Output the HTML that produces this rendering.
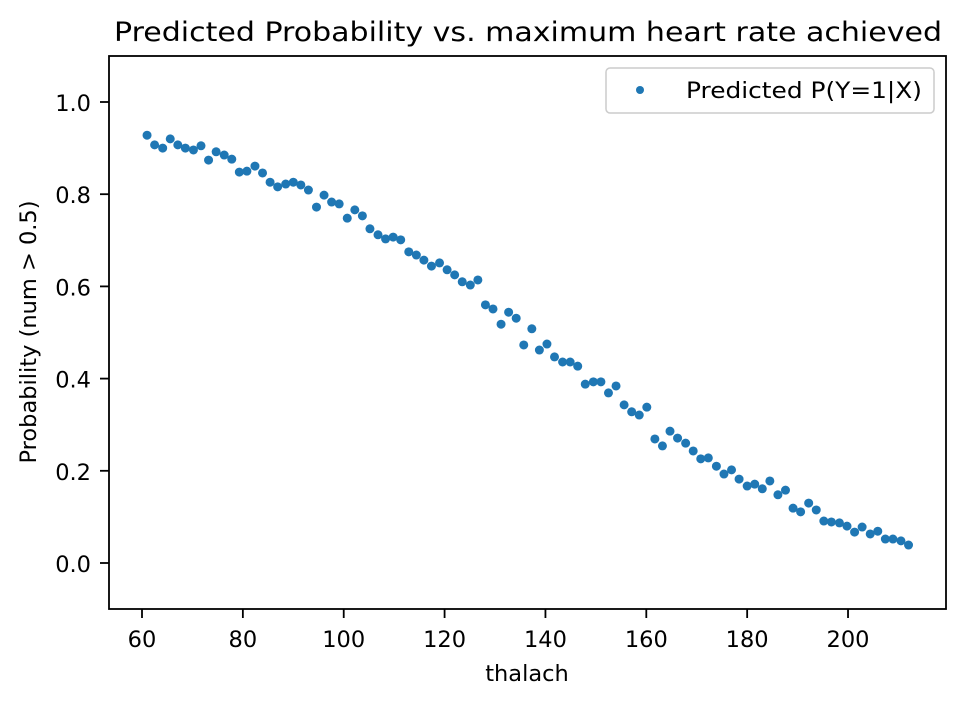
<!DOCTYPE html>
<html><head><meta charset="utf-8"><style>
body{margin:0;background:#fff}
svg{display:block;font-family:"DejaVu Sans","Liberation Sans",sans-serif}
</style></head><body>
<svg id="chart" width="964" height="703">
<text x="114" y="41" font-size="27" textLength="828" lengthAdjust="spacingAndGlyphs" fill="#000">Predicted Probability vs. maximum heart rate achieved</text>
<rect x="109" y="56" width="837" height="553" fill="none" stroke="#000" stroke-width="1.8"/>
<g id="xt"></g>
<g id="yt"></g>
<g id="pts"></g>
<text x="527" y="681" text-anchor="middle" font-size="22.5">thalach</text>
<text transform="translate(36,332) rotate(-90)" text-anchor="middle" font-size="22.5">Probability (num &gt; 0.5)</text>
<g>
<rect x="606" y="68" width="328" height="45" rx="4" fill="#fff" stroke="#ccc" stroke-width="1.5"/>
<circle cx="640" cy="90" r="4" fill="#1f77b4"/>
<text x="686" y="98" font-size="22.5" textLength="236" lengthAdjust="spacingAndGlyphs">Predicted P(Y=1|X)</text>
</g>
</svg>
<script>
const xVals=[61.0,62.5,64.1,65.6,67.1,68.6,70.2,71.7,73.2,74.7,76.3,77.8,79.3,80.8,82.4,83.9,85.4,86.9,88.5,90.0,91.5,93.0,94.6,96.1,97.6,99.1,100.7,102.2,103.7,105.2,106.8,108.3,109.8,111.3,112.9,114.4,115.9,117.4,119.0,120.5,122.0,123.5,125.1,126.6,128.1,129.6,131.2,132.7,134.2,135.7,137.3,138.8,140.3,141.8,143.4,144.9,146.4,147.9,149.5,151.0,152.5,154.0,155.6,157.1,158.6,160.1,161.7,163.2,164.7,166.2,167.8,169.3,170.8,172.3,173.9,175.4,176.9,178.4,180.0,181.5,183.0,184.5,186.1,187.6,189.1,190.6,192.2,193.7,195.2,196.7,198.3,199.8,201.3,202.8,204.4,205.9,207.4,208.9,210.5,212.0];
const yVals=[0.928,0.907,0.900,0.920,0.907,0.900,0.896,0.905,0.874,0.892,0.885,0.876,0.848,0.850,0.861,0.846,0.826,0.816,0.822,0.826,0.820,0.809,0.772,0.798,0.783,0.779,0.748,0.766,0.753,0.725,0.712,0.703,0.707,0.701,0.675,0.668,0.657,0.644,0.651,0.636,0.625,0.610,0.603,0.614,0.560,0.551,0.518,0.544,0.531,0.473,0.508,0.462,0.475,0.447,0.436,0.436,0.427,0.388,0.393,0.393,0.369,0.384,0.343,0.328,0.321,0.338,0.269,0.254,0.286,0.271,0.260,0.243,0.226,0.228,0.210,0.193,0.202,0.182,0.167,0.171,0.161,0.178,0.148,0.158,0.119,0.111,0.130,0.115,0.091,0.089,0.087,0.080,0.067,0.078,0.063,0.069,0.052,0.052,0.048,0.039];
const xTicks=[60,80,100,120,140,160,180,200];
const yTicks=[0.0,0.2,0.4,0.6,0.8,1.0];
const NS='http://www.w3.org/2000/svg';
function sx(v){return 142+(v-60)*5.043;}
function sy(v){return 563-v*461;}
function mk(t,a){const e=document.createElementNS(NS,t);for(const k in a)e.setAttribute(k,a[k]);return e;}
const xt=document.getElementById('xt'),yt=document.getElementById('yt'),pts=document.getElementById('pts');
xTicks.forEach(v=>{
  const l=mk('line',{x1:sx(v),x2:sx(v),y1:609,y2:618,stroke:'#000','stroke-width':1.8});
  
  
  xt.appendChild(l);
  const t=mk('text',{x:sx(v),y:647,'text-anchor':'middle','font-size':22.5});
  t.textContent=v;
  
  
  xt.appendChild(t);
});
yTicks.forEach(v=>{
  const l=mk('line',{x1:100,x2:109,y1:sy(v),y2:sy(v),stroke:'#000','stroke-width':1.8});
  
  
  yt.appendChild(l);
  const t=mk('text',{x:91,y:sy(v)+9,'text-anchor':'end','font-size':22.5});
  t.textContent=v.toFixed(1);
  
  
  yt.appendChild(t);
});
xVals.forEach((x,i)=>{
  const c=mk('circle',{cx:sx(x),cy:sy(yVals[i]),r:4.5,fill:'#1f77b4'});
  
  
  pts.appendChild(c);
});
</script>
</body></html>
